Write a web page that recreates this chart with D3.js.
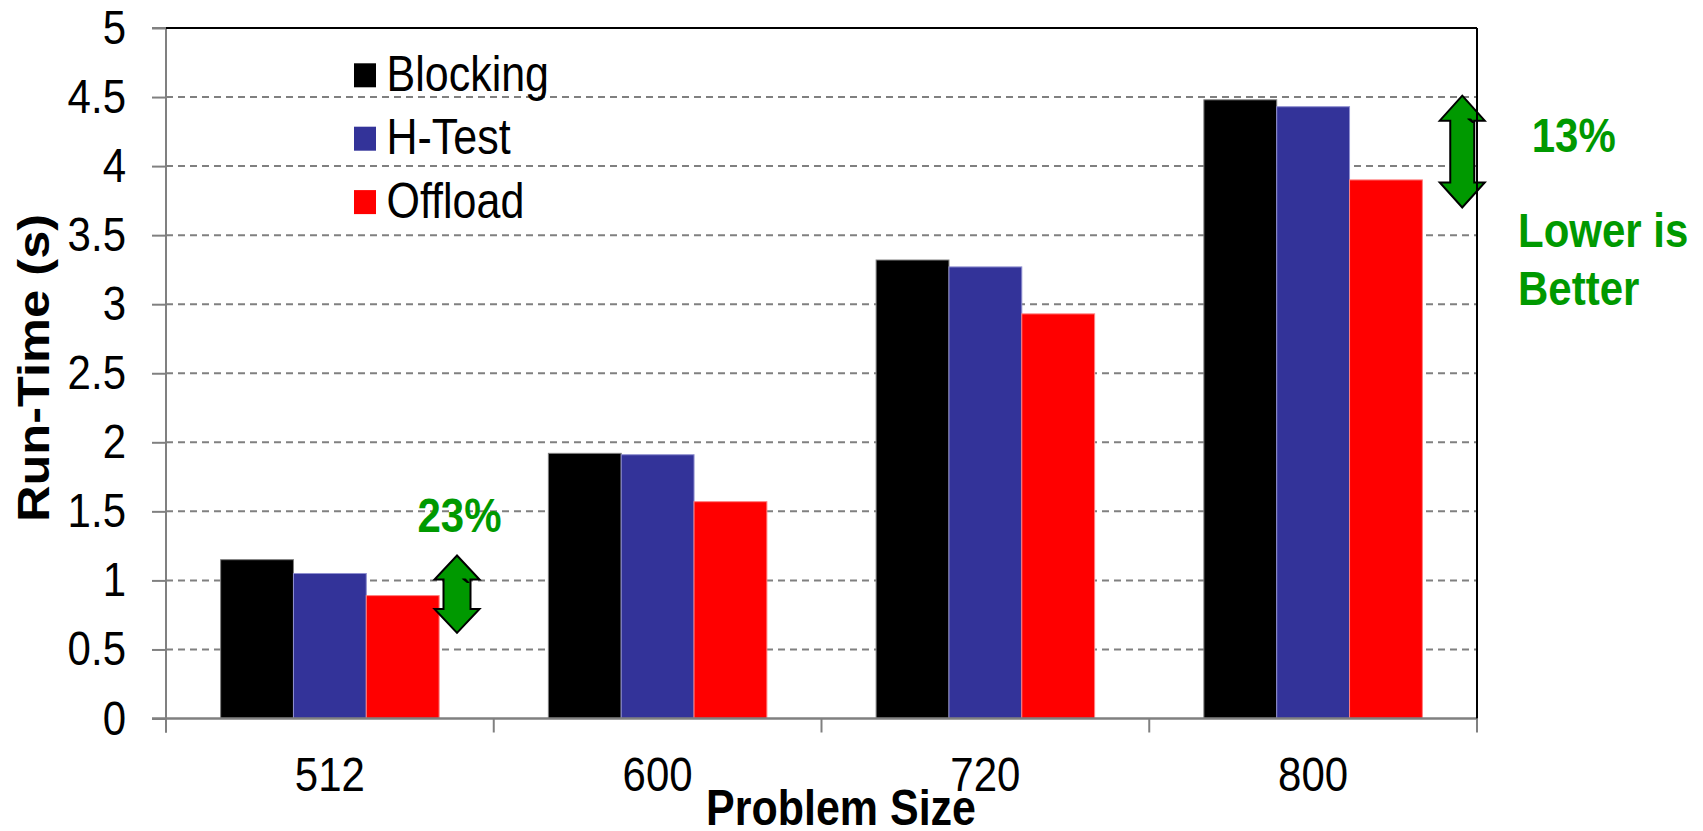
<!DOCTYPE html>
<html>
<head>
<meta charset="utf-8">
<script src="https://cdn.jsdelivr.net/npm/d3@7"></script>
<style>
  html, body { margin: 0; padding: 0; background: #fff; }
  svg { display: block; }
  text { font-family: "Liberation Sans", Arial, Helvetica, sans-serif; }
</style>
</head>
<body>
<svg id="chart" width="1703" height="831"></svg>
<script>
// Problem sizes on the x axis
const categories = ["512", "600", "720", "800"];
// Series names (legend order)
const seriesNames = ["Blocking", "H-Test", "Offload"];
const seriesColors = ["#000000", "#333399", "#ff0000"];
const seriesStrokes = ["#7f7f7f", "#8f8fd0", "#ff8080"];
// Run-time in seconds
const blocking = [1.15, 1.92, 3.32, 4.48];
const hTest = [1.05, 1.91, 3.27, 4.43];
const offload = [0.89, 1.57, 2.93, 3.90];
// Y axis ticks
const yTicks = [0, 0.5, 1, 1.5, 2, 2.5, 3, 3.5, 4, 4.5, 5];

const seriesValues = [blocking, hTest, offload];

const svg = d3.select("#chart");
const plotLeft = 166, plotRight = 1477, plotTop = 28, plotBottom = 718.5;
// Type in this figure is drawn slightly tall
const stretch = 1.15;
const at = (x, yy) => `translate(${x},${yy}) scale(1,${stretch})`;

const x0 = d3.scaleBand().domain(categories).range([plotLeft, plotRight]).padding(0);
const x1 = d3.scaleBand().domain(seriesNames).range([0, x0.bandwidth()])
  .paddingInner(0).paddingOuter(0.75);
const y = d3.scaleLinear().domain([0, 5]).range([plotBottom, plotTop]);

const gray = "#808080";
const green = "#009900";

// Horizontal dashed gridlines
svg.append("g").selectAll("line")
  .data(yTicks.filter(d => d > 0 && d < 5))
  .join("line")
  .attr("x1", plotLeft).attr("x2", plotRight)
  .attr("y1", d => y(d)).attr("y2", d => y(d))
  .attr("stroke", gray).attr("stroke-width", 2)
  .attr("stroke-dasharray", "7,5");

// Bars
const groups = svg.append("g").selectAll("g")
  .data(categories)
  .join("g")
  .attr("transform", d => `translate(${x0(d)},0)`);

groups.selectAll("rect")
  .data((c, i) => seriesNames.map((s, k) => ({ s, k, v: seriesValues[k][i] })))
  .join("rect")
  .attr("x", d => x1(d.s))
  .attr("width", x1.bandwidth())
  .attr("y", d => y(d.v))
  .attr("height", d => y(0) - y(d.v))
  .attr("fill", d => seriesColors[d.k])
  .attr("stroke", d => seriesStrokes[d.k])
  .attr("stroke-width", 1);

// Y axis (left), gray
const yAxis = d3.axisLeft(y).tickValues(yTicks).tickSize(14)
  .tickFormat(d => d3.format("")(d));
const gy = svg.append("g").attr("transform", `translate(${plotLeft},0)`).call(yAxis);
gy.select(".domain").remove();
gy.selectAll(".tick line").attr("stroke", gray).attr("stroke-width", 2);
gy.selectAll(".tick text")
  .attr("x", null).attr("dy", null)
  .attr("transform", at(-40, 15.5))
  .attr("font-size", 42)
  .attr("fill", "#000")
  .attr("font-family", "Liberation Sans, Arial, sans-serif");
svg.append("line").attr("x1", plotLeft).attr("x2", plotLeft)
  .attr("y1", plotTop).attr("y2", plotBottom + 14)
  .attr("stroke", gray).attr("stroke-width", 2);

// X axis (bottom), gray with boundary ticks
svg.append("line").attr("x1", plotLeft - 14).attr("x2", plotRight)
  .attr("y1", plotBottom).attr("y2", plotBottom)
  .attr("stroke", gray).attr("stroke-width", 2.5);
const boundaries = categories.map(c => x0(c)).concat([plotRight]);
svg.append("g").selectAll("line")
  .data(boundaries)
  .join("line")
  .attr("x1", d => d).attr("x2", d => d)
  .attr("y1", plotBottom).attr("y2", plotBottom + 14)
  .attr("stroke", gray).attr("stroke-width", 2);
svg.append("g").selectAll("text")
  .data(categories)
  .join("text")
  .attr("transform", d => at(x0(d) + x0.bandwidth() / 2, 791))
  .attr("text-anchor", "middle")
  .attr("font-size", 42)
  .text(d => d);

// Up/down arrows marking the gap between Blocking and Offload
function doubleArrow(cx, yTop, yBot, headW, shaftW, headH) {
  const p = [
    [cx, yTop], [cx + headW / 2, yTop + headH], [cx + shaftW / 2, yTop + headH],
    [cx + shaftW / 2, yBot - headH], [cx + headW / 2, yBot - headH], [cx, yBot],
    [cx - headW / 2, yBot - headH], [cx - shaftW / 2, yBot - headH],
    [cx - shaftW / 2, yTop + headH], [cx - headW / 2, yTop + headH]
  ];
  svg.append("path")
    .attr("d", "M" + p.map(q => q.join(",")).join("L") + "Z")
    .attr("fill", green).attr("stroke", "#000").attr("stroke-width", 2)
    .attr("stroke-linejoin", "miter");
}
doubleArrow(x0("512") + 291, y(1.18), y(0.62), 45, 27, 24);
doubleArrow(x0("800") + 313, y(4.51), y(3.70), 45, 24, 25);
svg.append("text").attr("x", x0("512") + 295).attr("y", 600)
  .attr("font-size", 30).attr("font-weight", "bold").text("`");
svg.append("text").attr("x", x0("800") + 317).attr("y", 140)
  .attr("font-size", 30).attr("font-weight", "bold").text("`");

// Plot frame: black top and right edges
svg.append("line").attr("x1", plotLeft).attr("x2", plotRight)
  .attr("y1", plotTop).attr("y2", plotTop)
  .attr("stroke", "#000").attr("stroke-width", 2);
svg.append("line").attr("x1", plotLeft - 14).attr("x2", plotLeft)
  .attr("y1", plotTop).attr("y2", plotTop)
  .attr("stroke", gray).attr("stroke-width", 2);
svg.append("line").attr("x1", plotRight).attr("x2", plotRight)
  .attr("y1", plotTop).attr("y2", plotBottom)
  .attr("stroke", "#000").attr("stroke-width", 2);

// Annotations
svg.append("text").attr("transform", at(459.5, 532))
  .attr("text-anchor", "middle").attr("font-size", 42).attr("font-weight", "bold")
  .attr("fill", green).text("23%");
svg.append("text").attr("transform", at(1531.7, 151.7))
  .attr("font-size", 42).attr("font-weight", "bold")
  .attr("fill", green).text("13%");
svg.append("text").attr("transform", at(1518, 246.7))
  .attr("font-size", 42).attr("font-weight", "bold")
  .attr("fill", green).text("Lower is");
svg.append("text").attr("transform", at(1518, 305))
  .attr("font-size", 42).attr("font-weight", "bold")
  .attr("fill", green).text("Better");

// Legend
const legend = svg.append("g").selectAll("g")
  .data(seriesNames)
  .join("g")
  .attr("transform", (d, i) => `translate(354,${63.3 + i * 63.4})`);
legend.append("rect")
  .attr("width", 22).attr("height", 24)
  .attr("fill", (d, i) => seriesColors[i]);
legend.append("text")
  .attr("transform", at(32.5, 27.4))
  .attr("font-size", 43)
  .text(d => d);

// Axis titles
svg.append("text")
  .attr("transform", at(841, 825))
  .attr("text-anchor", "middle").attr("font-size", 43).attr("font-weight", "bold")
  .text("Problem Size");
svg.append("text")
  .attr("transform", `translate(49,368) rotate(-90) scale(${stretch},1)`)
  .attr("text-anchor", "middle").attr("font-size", 44).attr("font-weight", "bold")
  .text("Run-Time (s)");
</script>
</body>
</html>
